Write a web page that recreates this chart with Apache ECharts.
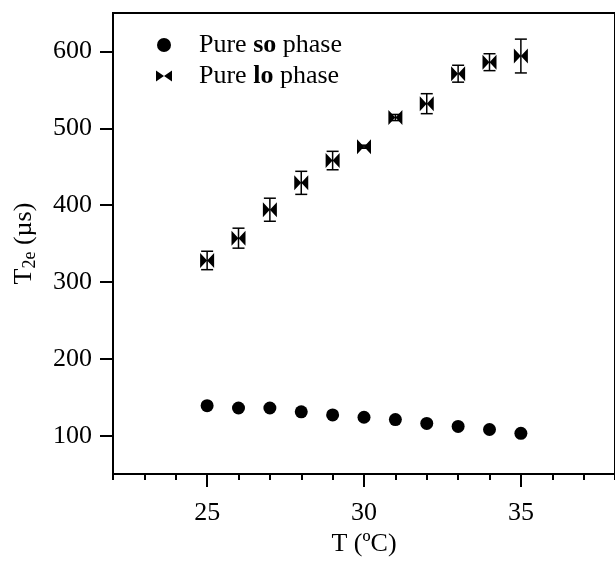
<!DOCTYPE html>
<html>
<head>
<meta charset="utf-8">
<script src="https://cdn.jsdelivr.net/npm/echarts@6/dist/echarts.min.js"></script>
<style>
html,body{margin:0;padding:0;background:#fff}
#main{width:615px;height:562px}
</style>
</head>
<body>
<div id="main"></div>
<script>
var temps = [25, 26, 27, 28, 29, 30, 31, 32, 33, 34, 35];
var soPhase = [139, 136, 136, 131, 127, 124, 121, 116, 112, 108, 103];
var loPhase = [328, 357, 394, 429, 458, 476, 514, 532, 571, 586, 594];
var loError = [12, 13, 15, 15, 12, 2, 4, 13, 11, 11, 22];
var xMajor = [25, 30, 35];
var yTicks = [100, 200, 300, 400, 500, 600];

var font = 'Liberation Serif';
var bowtie = 'path://M0,0L10,7L0,14ZM20,0L10,7L20,14Z';

var soData = [], loData = [], errData = [];
for (var i = 0; i < temps.length; i++) {
  soData.push([temps[i], soPhase[i]]);
  loData.push([temps[i], loPhase[i]]);
  errData.push([temps[i], loPhase[i] - loError[i], loPhase[i] + loError[i]]);
}

var chart = echarts.init(document.getElementById('main'));
var option = {
  animation: false,
  textStyle: { fontFamily: font, color: '#000' },
  grid: {
    left: 113, top: 13, bottom: 85, right: -7,
    show: true, borderColor: '#000', borderWidth: 2
  },
  legend: {
    orient: 'vertical',
    left: 151, top: 27,
    itemWidth: 16, itemHeight: 14,
    itemGap: 5,
    data: [
      { name: 'so', icon: 'circle', itemStyle: { opacity: 1 } },
      { name: 'lo', icon: bowtie, itemStyle: { opacity: 1 } }
    ],
    formatter: function (n) {
      return '{g|Pure }{b|' + n + '}{n| phase}';
    },
    textStyle: {
      fontFamily: font, fontSize: 26, color: '#000',
      rich: {
        g: { fontFamily: font, fontSize: 26, padding: [0, 0, 0, 22], lineHeight: 25 },
        b: { fontFamily: font, fontSize: 26, fontWeight: 'bold', lineHeight: 25 },
        n: { fontFamily: font, fontSize: 26, lineHeight: 25 }
      }
    }
  },
  xAxis: [{
    type: 'value', min: 22, max: 38, interval: 1,
    name: 'T (ºC)', nameLocation: 'middle', nameGap: 52,
    nameTextStyle: { fontFamily: font, fontSize: 26, color: '#000' },
    axisLine: { lineStyle: { color: '#000', width: 2 } },
    axisTick: { length: 6, lineStyle: { color: '#000', width: 2 } },
    axisLabel: {
      customValues: xMajor, margin: 26,
      fontFamily: font, fontSize: 26, color: '#000'
    },
    splitLine: { show: false }
  }, {
    type: 'value', min: 22, max: 38, position: 'bottom',
    axisLine: { show: false },
    axisTick: { customValues: xMajor, length: 13, lineStyle: { color: '#000', width: 2 } },
    axisLabel: { show: false },
    splitLine: { show: false }
  }],
  yAxis: {
    type: 'value', min: 50, max: 650,
    name: 'T{s|2e} (µs)', nameLocation: 'middle', nameGap: 74,
    nameTextStyle: {
      fontFamily: font, fontSize: 26, color: '#000',
      rich: { s: { fontFamily: font, fontSize: 18, padding: [12, 0, 0, 0] } }
    },
    axisLine: { show: true, lineStyle: { color: '#000', width: 2 } },
    axisTick: { customValues: yTicks, length: 13, lineStyle: { color: '#000', width: 2 } },
    axisLabel: {
      customValues: yTicks, margin: 21,
      fontFamily: font, fontSize: 26, color: '#000'
    },
    splitLine: { show: false }
  },
  series: [{
    name: 'so', type: 'scatter', data: soData,
    symbol: 'circle', symbolSize: 13,
    itemStyle: { color: '#000', opacity: 1 }
  }, {
    type: 'custom', data: errData, z: 3,
    renderItem: function (params, api) {
      var x = api.value(0);
      var lo = api.coord([x, api.value(1)]);
      var hi = api.coord([x, api.value(2)]);
      var cw = 6;
      var st = { stroke: '#000', lineWidth: 1.5 };
      return {
        type: 'group',
        children: [
          { type: 'line', shape: { x1: lo[0], y1: lo[1], x2: hi[0], y2: hi[1] }, style: st },
          { type: 'line', shape: { x1: lo[0] - cw, y1: lo[1], x2: lo[0] + cw, y2: lo[1] }, style: st },
          { type: 'line', shape: { x1: hi[0] - cw, y1: hi[1], x2: hi[0] + cw, y2: hi[1] }, style: st }
        ]
      };
    }
  }, {
    name: 'lo', type: 'scatter', data: loData,
    symbol: bowtie, symbolSize: [14, 15], z: 4,
    itemStyle: { color: '#000', opacity: 1 }
  }]
};
chart.setOption(option);
</script>
</body>
</html>
